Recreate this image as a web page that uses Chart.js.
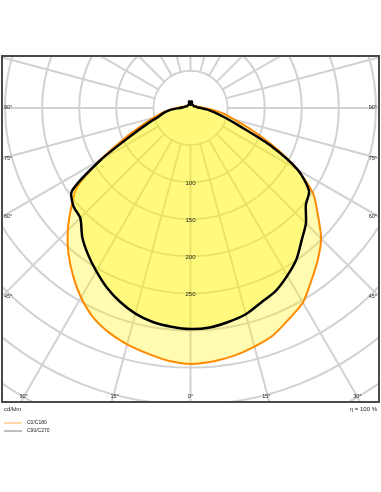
<!DOCTYPE html>
<html>
<head>
<meta charset="utf-8">
<script src="https://cdn.jsdelivr.net/npm/chart.js@4"></script>
<style>
  html, body { margin: 0; padding: 0; background: #fff; }
  #wrap { width: 381px; height: 492px; }
</style>
</head>
<body>
<div id="wrap"><canvas id="ldc" width="381" height="492"></canvas></div>
<script>
// gamma angles (deg from nadir), one half plane
const gamma = [0, 5, 10, 15, 20, 25, 30, 35, 40, 45, 50, 55, 60, 65, 70, 75, 80, 85, 90,
  95, 100, 105, 110, 115, 120, 125, 130, 135, 140, 145, 150, 155, 160, 165, 170, 175, 180];

// intensities in cd/klm
const c180 = [345, 342, 336, 330, 322, 311, 295, 276, 256, 234, 210, 187, 141, 99, 70, 51, 39, 28, 18,
  13, 10, 8, 7, 6, 6, 5, 5, 5, 5, 5, 5, 5, 6, 7, 7, 6, 6];
const c0 = [345, 343, 339, 333, 326, 314, 303, 284, 267, 249, 224, 202, 167, 125, 89, 62, 46, 30, 18,
  13, 10, 8, 7, 6, 6, 5, 5, 5, 5, 5, 5, 5, 6, 7, 7, 6, 6];
const c270 = [298, 296, 293, 287, 278, 267, 254, 241, 227, 210, 206, 195, 139, 88, 61, 44, 36, 26, 14,
  10, 8, 7, 6, 5, 5, 5, 5, 5, 5, 5, 5, 5, 5, 8, 9, 6, 4];
const c90 = [298, 297, 293, 288, 279, 272, 261, 249, 233, 220, 203, 195, 167, 117, 69, 46, 32, 22, 13,
  9, 8, 7, 6, 5, 5, 5, 5, 5, 5, 5, 5, 5, 5, 8, 9, 6, 4];

const radialTicks = [100, 150, 200, 250];
const angleTicks = [0, 15, 30, 45, 60, 75, 90];

// left half goes 0 -> 180, right half comes back 175 -> 5
function ring(left, right) {
  return left.concat(right.slice(1, -1).reverse());
}

const labels = ring(gamma, gamma).map(g => g + '°');

const polarDecor = {
  id: 'polarDecor',
  beforeDraw(chart) {
    const { ctx, chartArea: a } = chart;
    ctx.save();
    ctx.beginPath();
    ctx.rect(a.left, a.top, a.right - a.left, a.bottom - a.top);
    ctx.clip();
  },
  beforeDatasetsDraw(chart) {
    // empty hub inside the 50 cd/klm ring
    const r = chart.scales.r;
    const ctx = chart.ctx;
    ctx.beginPath();
    ctx.arc(r.xCenter, r.yCenter, r.getDistanceFromCenterForValue(50) - 1, 0, Math.PI * 2);
    ctx.fillStyle = '#fff';
    ctx.fill();
  },
  afterDatasetsDraw(chart) {
    const r = chart.scales.r;
    const a = chart.chartArea;
    const ctx = chart.ctx;
    ctx.fillStyle = '#222';

    // intensity values along the nadir spoke
    ctx.font = '6px "Liberation Sans", Arial, sans-serif';
    ctx.textAlign = 'center';
    ctx.textBaseline = 'middle';
    radialTicks.forEach(v => {
      ctx.fillText(String(v), r.xCenter, r.yCenter + r.getDistanceFromCenterForValue(v) + 1);
    });

    // angle labels where spokes leave the frame
    ctx.font = '5.5px "Liberation Sans", Arial, sans-serif';
    angleTicks.forEach(g => {
      const sides = g === 0 ? [1] : [-1, 1];
      sides.forEach(s => {
        const rad = g * Math.PI / 180;
        const dx = s * Math.sin(rad), dy = Math.cos(rad);
        const tx = Math.abs(dx) < 1e-6 ? Infinity : ((dx < 0 ? a.left : a.right) - r.xCenter) / dx;
        const ty = dy > 1e-6 ? (a.bottom - r.yCenter) / dy : Infinity;
        if (tx < ty) {
          const y = r.yCenter + dy * tx;
          ctx.textAlign = s < 0 ? 'left' : 'right';
          ctx.fillText(g + '°', s < 0 ? a.left + 2 : a.right - 2, y);
        } else {
          const x = r.xCenter + dx * ty;
          ctx.textAlign = 'center';
          ctx.fillText(g + '°', x - s * (g > 0 ? 3 : 0), a.bottom - 6);
        }
      });
    });
  },
  afterDraw(chart) {
    const { ctx, chartArea: a } = chart;
    ctx.restore();

    // frame
    ctx.strokeStyle = '#4a4a4a';
    ctx.lineWidth = 2;
    ctx.strokeRect(a.left, a.top, a.right - a.left, a.bottom - a.top);

    // footer
    ctx.fillStyle = '#222';
    ctx.font = '6px "Liberation Sans", Arial, sans-serif';
    ctx.textBaseline = 'middle';
    ctx.textAlign = 'left';
    ctx.fillText('cd/klm', a.left + 2, a.bottom + 7);
    ctx.textAlign = 'right';
    ctx.fillText('η = 100 %', a.right - 2, a.bottom + 7);

    // legend
    ctx.font = '5px "Liberation Sans", Arial, sans-serif';
    ctx.textAlign = 'left';
    chart.data.datasets.forEach((ds, i) => {
      const y = a.bottom + 21 + i * 8;
      ctx.strokeStyle = ds.legendColor;
      ctx.lineWidth = 1;
      ctx.beginPath();
      ctx.moveTo(a.left + 2, y);
      ctx.lineTo(a.left + 20, y);
      ctx.stroke();
      ctx.fillStyle = '#222';
      ctx.fillText(ds.label, a.left + 25, y);
    });
  }
};

const gridColor = '#d2d2d2';

new Chart(document.getElementById('ldc').getContext('2d'), {
  type: 'radar',
  data: {
    labels: labels,
    datasets: [
      {
        label: 'C0/C180',
        data: ring(c180, c0),
        borderColor: '#ff8a00',
        legendColor: '#ffb055',
        backgroundColor: 'rgba(255, 245, 0, 0.3)',
        borderWidth: 2,
        fill: 'origin',
        tension: 0.25,
        pointRadius: 0,
        order: 1
      },
      {
        label: 'C90/C270',
        data: ring(c270, c90),
        borderColor: '#000',
        legendColor: '#808080',
        backgroundColor: 'rgba(255, 245, 0, 0.3)',
        borderWidth: 2.5,
        fill: 'origin',
        tension: 0.25,
        pointRadius: 0,
        order: 0
      }
    ]
  },
  plugins: [polarDecor],
  options: {
    responsive: false,
    animation: false,
    layout: { padding: { left: 2, top: 56, right: 2, bottom: 90 } },
    plugins: {
      legend: { display: false },
      tooltip: { enabled: false }
    },
    scales: {
      r: {
        min: 0,
        max: 500,
        startAngle: 180,
        ticks: { stepSize: 50, display: false },
        grid: { circular: true, color: gridColor, lineWidth: 2 },
        angleLines: {
          color: ctx => (ctx.index % 3 === 0 ? gridColor : 'rgba(0,0,0,0)'),
          lineWidth: 2
        },
        pointLabels: { display: false },
        // pole sits near the top of the frame, rings run past its edges
        afterFit(scale) {
          scale.xCenter = (scale.left + scale.right) / 2;
          scale.yCenter = scale.top + (scale.bottom - scale.top) * 0.15;
          scale.drawingArea = (scale.right - scale.left) * 0.984;
        }
      }
    }
  }
});
</script>
</body>
</html>
